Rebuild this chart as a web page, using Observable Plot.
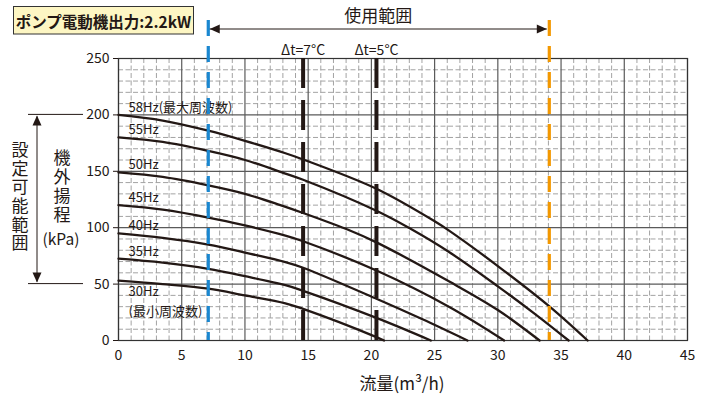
<!DOCTYPE html>
<html><head><meta charset="utf-8">
<script src="https://cdn.jsdelivr.net/npm/d3@7"></script>
<script src="https://cdn.jsdelivr.net/npm/@observablehq/plot@0.6"></script>
<style>body{margin:0;background:#fff}svg{display:block}</style>
</head><body><div id="chart"></div>
<script>
// ---- data ----
const seriesNames = ["58Hz", "55Hz", "50Hz", "45Hz", "40Hz", "35Hz", "30Hz"];
const seriesLabels = ["58Hz(最大周波数)", "55Hz", "50Hz", "45Hz", "40Hz", "35Hz", "30Hz"];
const minFreqNote = "(最小周波数)";
const q58 = [0, 3.5, 7.1, 10, 13.2, 14.6, 20.4, 25.1, 26.2, 30, 34.1, 37.1];
const h58 = [200, 195, 186, 177, 166, 160.5, 134.5, 105, 97, 66, 30, 0];
const q55 = [0, 3.5, 7.1, 10, 13.2, 14.6, 20.4, 23.1, 26.2, 30, 33, 35.6];
const h55 = [180, 176, 168, 160, 148, 142.5, 115, 99, 78, 48, 23, 0];
const q50 = [0, 3.5, 7.1, 10, 12.8, 14.6, 18.3, 20.4, 26.2, 30, 33.3];
const h50 = [149, 145, 137.5, 130, 120, 113, 97.5, 87, 52, 27, 0];
const q45 = [0, 3.5, 7.1, 10, 13.2, 14.6, 20.4, 26.2, 30.5];
const h45 = [120, 116, 109, 102, 93, 88, 62, 29.5, 0];
const q40 = [0, 3.5, 7.1, 10, 13.2, 14.6, 20.4, 24, 27.6];
const h40 = [95, 91, 85, 78, 69.5, 64.5, 37, 19, 0];
const q35 = [0, 3.5, 7.1, 10, 13.2, 14.6, 20.4, 24.7];
const h35 = [72.5, 69, 63.5, 57, 49, 44, 20, 0];
const q30 = [0, 3.5, 7.1, 10, 13.2, 14.6, 20.4, 21.0];
const h30 = [53, 50, 46, 40, 33, 28, 3, 0];
const usageRange = [7.1, 34.07];          // 使用範囲 (m3/h)
const deltaT = [14.6, 20.4];              // Δt lines
const deltaTLabels = ["Δt=7°C", "Δt=5°C"];
const settingRange = [50, 200];           // 設定可能範囲 (kPa)
const xTicks = [0, 5, 10, 15, 20, 25, 30, 35, 40, 45];
const yTicks = [0, 50, 100, 150, 200, 250];
const titleText = "ポンプ電動機出力:2.2kW";

// ---- build tables ----
const qs = [q58, q55, q50, q45, q40, q35, q30];
const hs = [h58, h55, h50, h45, h40, h35, h30];
const curveData = seriesNames.flatMap((f, i) => qs[i].map((q, j) => ({f, q, h: hs[i][j]})));
const labelData = seriesNames.map((f, i) => ({f, label: seriesLabels[i], h: hs[i][0], below: i === seriesNames.length - 1}));
const minorX = d3.range(0, 45, 1).filter(v => v % 5 !== 0);
const minorY = d3.range(0, 250, 10).filter(v => v % 50 !== 0);
const dtData = deltaT.map((x, i) => ({x, label: deltaTLabels[i]}));

const ink = "#231815";
const font = "'Noto Sans CJK JP', 'Noto Sans', sans-serif";

const svg = Plot.plot({
  width: 712, height: 396,
  marginLeft: 118, marginRight: 25, marginTop: 58, marginBottom: 56,
  style: {fontFamily: font, fontSize: "14px", color: ink, background: "#fff", overflow: "visible"},
  x: {domain: [0, 45], ticks: xTicks, tickSize: 0, tickPadding: 10, label: null},
  y: {domain: [0, 250], ticks: yTicks, tickSize: 5, tickPadding: 4, label: null},
  marks: [
    Plot.ruleX(minorX, {stroke: "#a3a3a3", strokeWidth: 1, strokeDasharray: "5,2.5"}),
    Plot.ruleY(minorY, {stroke: "#a3a3a3", strokeWidth: 1, strokeDasharray: "5,2.5"}),
    Plot.ruleX(xTicks, {stroke: "#5a5a5a", strokeWidth: 1.2}),
    Plot.ruleY(yTicks, {stroke: "#5a5a5a", strokeWidth: 1.2}),
    Plot.frame({stroke: "#333", strokeWidth: 1.2}),
    Plot.line(curveData, {x: "q", y: "h", z: "f", stroke: ink, strokeWidth: 2.3, curve: "catmull-rom"}),
    Plot.text(labelData.filter(d => !d.below), {x: 0.8, y: "h", text: "label", textAnchor: "start", lineAnchor: "bottom", dy: -3, fill: ink, fontSize: 13}),
    Plot.text(labelData.filter(d => d.below), {x: 0.8, y: "h", text: "label", textAnchor: "start", lineAnchor: "top", dy: 6, fill: ink, fontSize: 13}),
    Plot.text(labelData.filter(d => d.below), {x: 0.8, y: "h", text: () => minFreqNote, textAnchor: "start", lineAnchor: "top", dy: 26, fill: ink, fontSize: 13}),
    Plot.ruleX(dtData, {x: "x", stroke: ink, strokeWidth: 4, strokeDasharray: "30,12"}),
    Plot.text(dtData, {x: "x", text: "label", frameAnchor: "top", dy: -13, fill: ink, fontSize: 14}),
    Plot.ruleX(usageRange, {x: d => d, stroke: (d, i) => i === 0 ? "#1a87d0" : "#f39800", insetTop: -38, strokeWidth: 3.2, strokeDasharray: "16,10"}),
    Plot.axisX({ticks: xTicks, tickSize: 0, tickPadding: 10, fontSize: 14}),
    Plot.axisY({ticks: yTicks, tickSize: 5, tickPadding: 4, fontSize: 14})
  ]
});

const X = svg.scale("x"), Y = svg.scale("y");
const g = d3.select(svg).append("g").attr("fill", ink).style("font-family", font);

// title box
g.append("rect").attr("x", 13.5).attr("y", 6.5).attr("width", 180).attr("height", 27.5)
  .attr("fill", "#fdf6c3").attr("stroke", "#333").attr("stroke-width", 1);
g.append("text").attr("x", 103.5).attr("y", 20.5).attr("text-anchor", "middle").attr("dominant-baseline", "central")
  .attr("font-size", 15.5).attr("font-weight", "bold").text(titleText);

// 使用範囲 arrow
const xa = X.apply(usageRange[0]), xb = X.apply(usageRange[1]), ya = 29;
g.append("line").attr("x1", xa + 2).attr("x2", xb - 2).attr("y1", ya).attr("y2", ya).attr("stroke", ink).attr("stroke-width", 1);
g.append("path").attr("d", `M${xa + 2},${ya} l10,-4.5 v9 z`);
g.append("path").attr("d", `M${xb - 2},${ya} l-10,-4.5 v9 z`);
g.append("text").attr("x", (xa + xb) / 2).attr("y", 14).attr("text-anchor", "middle").attr("dominant-baseline", "central")
  .attr("font-size", 17).text("使用範囲");

// 設定可能範囲 bracket
const yt = Y.apply(settingRange[1]), yb = Y.apply(settingRange[0]), xv = 37;
g.append("line").attr("x1", 28).attr("x2", 83).attr("y1", yt).attr("y2", yt).attr("stroke", ink).attr("stroke-width", 1);
g.append("line").attr("x1", 28).attr("x2", 83).attr("y1", yb).attr("y2", yb).attr("stroke", ink).attr("stroke-width", 1);
g.append("line").attr("x1", xv).attr("x2", xv).attr("y1", yt + 2).attr("y2", yb - 2).attr("stroke", ink).attr("stroke-width", 1);
g.append("path").attr("d", `M${xv},${yt + 1} l-4.5,10 h9 z`);
g.append("path").attr("d", `M${xv},${yb - 1} l-4.5,-10 h9 z`);

function vtext(str, x, yTop, spacing, size) {
  g.append("text").attr("x", x).attr("y", yTop)
    .attr("writing-mode", "vertical-rl").style("writing-mode", "vertical-rl")
    .attr("text-anchor", "start").attr("font-size", size)
    .attr("letter-spacing", spacing).text(str);
}
vtext("設定可能範囲", 20, 141, 1.7, 17);
vtext("機外揚程", 62, 149, 2, 17);
g.append("text").attr("x", 61).attr("y", 238).attr("text-anchor", "middle").attr("dominant-baseline", "central")
  .attr("font-size", 15.5).text("(kPa)");

// x axis title
g.append("text").attr("x", 402).attr("y", 382).attr("text-anchor", "middle").attr("dominant-baseline", "central")
  .attr("font-size", 17).text("流量(m³/h)");

document.getElementById("chart").appendChild(svg);
</script>
</body></html>
